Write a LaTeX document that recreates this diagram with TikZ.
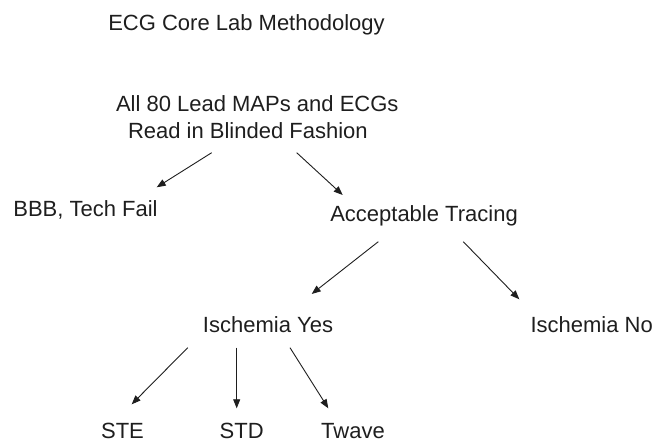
\documentclass[tikz,border=0pt]{standalone}
\usepackage{fontspec}
\setmainfont{Liberation Sans}
\usetikzlibrary{arrows.meta}
\definecolor{ink}{RGB}{30,30,30}
\tikzset{
  lbl/.style={inner sep=0pt, outer sep=0pt, text=ink, font=\fontsize{22pt}{26.6pt}\selectfont},
  arr/.style={draw=ink, line width=0.9pt, -{Triangle[length=9pt,width=7pt]}}
}
\begin{document}
\begin{tikzpicture}[x=1pt,y=1pt]
\useasboundingbox (0,0) rectangle (656,443);
% labels
\node[lbl, anchor=base] (title) at (246.5,412.3) {ECG Core Lab Methodology};
\node[lbl, anchor=base west] (src) at (116,304.7)
  {\begin{tabular}[b]{@{}l@{}}All 80 Lead MAPs and ECGs\\\hspace*{12pt}Read in Blinded Fashion\end{tabular}};
\node[lbl, anchor=base] (bbb) at (85.5,226.3) {BBB, Tech Fail};
\node[lbl, anchor=base] (acc) at (424,221.3) {Acceptable Tracing};
\node[lbl, anchor=base] (isy) at (268,110.7) {Ischemia Yes};
\node[lbl, anchor=base] (isn) at (591.7,110.7) {Ischemia No};
\node[lbl, anchor=base] (ste) at (122.5,4) {STE};
\node[lbl, anchor=base] (std) at (241.7,4) {STD};
\node[lbl, anchor=base] (twave) at (353,4) {Twave};
% connectors
\draw[arr] ([shift={(95.7,-14.4)}]src.base west) -- ([shift={(71.2,29.4)}]bbb.base);
\draw[arr] ([shift={(180.7,-14.4)}]src.base west) -- ([shift={(-81.3,26.7)}]acc.base);
\draw[arr] ([shift={(-45.7,-20)}]acc.base) -- ([shift={(43.7,38.3)}]isy.base);
\draw[arr] ([shift={(39.3,-20)}]acc.base) -- ([shift={(-72.4,33)}]isn.base);
\draw[arr] ([shift={(-80.3,-15.4)}]isy.base) -- ([shift={(9.2,34.7)}]ste.base);
\draw[arr] ([shift={(-31.3,-15.4)}]isy.base) -- ([shift={(-5,30.7)}]std.base);
\draw[arr] ([shift={(22,-15.4)}]isy.base) -- ([shift={(-24.7,30.7)}]twave.base);
\end{tikzpicture}
\end{document}
